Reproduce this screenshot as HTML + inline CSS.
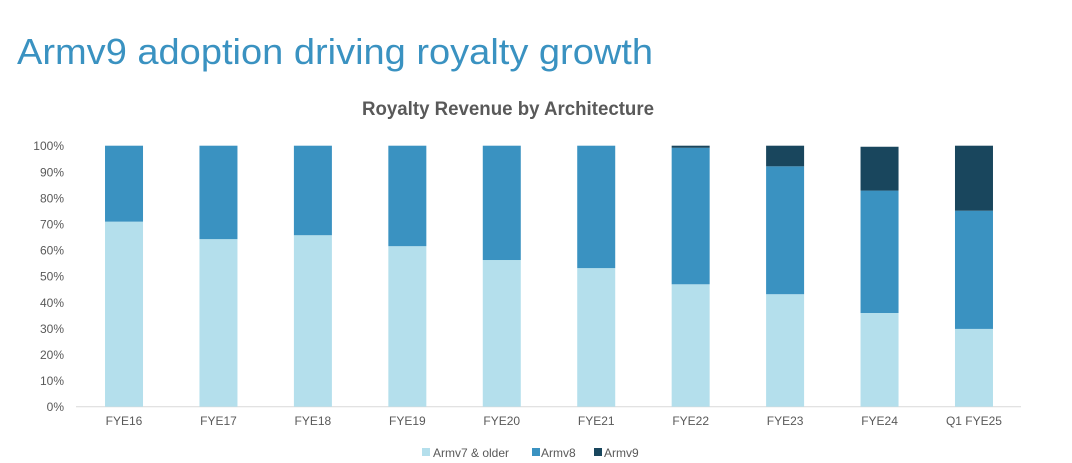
<!DOCTYPE html>
<html><head><meta charset="utf-8"><style>
body{margin:0;background:#fff;width:1072px;height:463px;overflow:hidden}
svg{display:block;font-family:"Liberation Sans",sans-serif}
</style></head><body>
<svg id="c" width="1072" height="463">
<text x="17" y="64" font-size="36" fill="#3a92c1" textLength="636" lengthAdjust="spacingAndGlyphs">Armv9 adoption driving royalty growth</text>
<text x="362" y="115" font-size="19" font-weight="bold" fill="#595959" textLength="292" lengthAdjust="spacingAndGlyphs">Royalty Revenue by Architecture</text>
<g id="axes"></g><g id="bars"></g>
<g>
<rect x="422" y="448" width="8" height="8" fill="#b4dfec"/>
<text x="433" y="457" font-size="12" fill="#595959">Armv7 &amp; older</text>
<rect x="532" y="448" width="8" height="8" fill="#3a92c1"/>
<text x="541" y="457" font-size="12" fill="#595959">Armv8</text>
<rect x="594" y="448" width="8" height="8" fill="#19465d"/>
<text x="604" y="457" font-size="12" fill="#595959">Armv9</text>
</g>
</svg>
<script>
const categories=["FYE16","FYE17","FYE18","FYE19","FYE20","FYE21","FYE22","FYE23","FYE24","Q1 FYE25"];
const armv7=[70.9,64.2,65.7,61.5,56.2,53.1,46.9,43.1,35.9,29.8];
const armv8=[29.1,35.8,34.3,38.5,43.8,46.9,52.3,49.0,46.9,45.3];
const armv9=[0,0,0,0,0,0,0.8,7.9,16.8,24.9];
const yTicks=[0,10,20,30,40,50,60,70,80,90,100];
const NS="http://www.w3.org/2000/svg";
const x0=76.8,bw=94.44,barW=38,yb=406.7,yt=145.7;
const y=v=>yb-(v/100)*(yb-yt);
const xc=i=>x0+bw*(i+0.5);
function mk(t,a,p){const e=document.createElementNS(NS,t);for(const k in a)e.setAttribute(k,a[k]);p.appendChild(e);return e;}
const ax=document.getElementById('axes'),bg=document.getElementById('bars');
const base=mk('line',{x1:76,x2:1021,y1:yb,y2:yb,stroke:'#d9d9d9','stroke-width':1},ax);


yTicks.forEach(v=>{const t=mk('text',{x:64,y:y(v)+4.5,'font-size':12,fill:'#595959','text-anchor':'end'},ax);t.textContent=v+'%';

});
categories.forEach((c,i)=>{
const t=mk('text',{x:xc(i),y:425,'font-size':12,fill:'#595959','text-anchor':'middle'},ax);t.textContent=c;


let acc=0;
[[armv7,'#b4dfec','armv7'],[armv8,'#3a92c1','armv8'],[armv9,'#19465d','armv9']].forEach(([s,col,n])=>{
const v=s[i];if(v<=0)return;
const r=mk('rect',{x:xc(i)-barW/2,y:y(acc+v),width:barW,height:y(acc)-y(acc+v),fill:col},bg);


acc+=v;});
});
</script>
</body></html>
